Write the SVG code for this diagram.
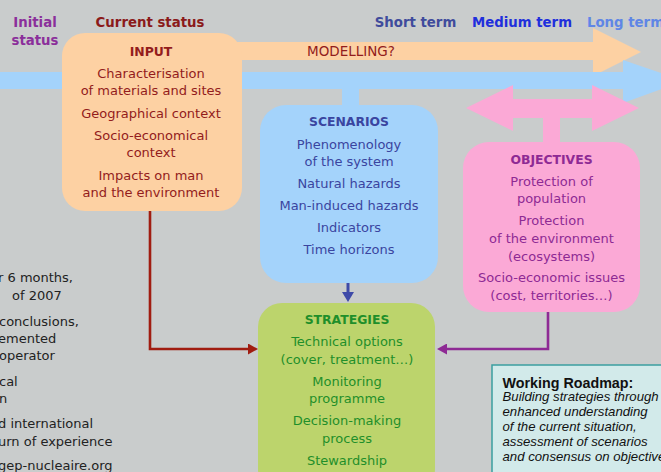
<svg xmlns="http://www.w3.org/2000/svg" width="661" height="472" viewBox="0 0 661 472">
<defs>
<style>
text{font-family:"DejaVu Sans","Liberation Sans",sans-serif;font-size:13px}
.b{font-weight:bold;font-size:13.3px}
.t{font-weight:bold;font-size:12.4px}
.c{text-anchor:middle}
.in{fill:#931c1c}
.sc{fill:#3a45a0}
.ob{fill:#8e2a94}
.st{fill:#1f8f2a}
.lt{fill:#222}
.wr{font-family:"Liberation Sans",Arial,sans-serif;fill:#111}
.it{font-style:italic;font-size:13.2px}
</style>
<marker id="mr" viewBox="0 0 10 11" refX="0" refY="5.5" markerWidth="10" markerHeight="11" markerUnits="userSpaceOnUse" orient="auto"><path d="M0,0 L10,5.5 L0,11 z" fill="#a01c10"/></marker>
<marker id="mp" viewBox="0 0 10 11" refX="0" refY="5.5" markerWidth="10" markerHeight="11" markerUnits="userSpaceOnUse" orient="auto"><path d="M0,0 L10,5.5 L0,11 z" fill="#8e2a94"/></marker>
<marker id="mb" viewBox="0 0 10 12" refX="0" refY="6" markerWidth="10" markerHeight="12" markerUnits="userSpaceOnUse" orient="auto"><path d="M0,0 L10,6 L0,12 z" fill="#3e4aa8"/></marker>
</defs>
<rect width="661" height="472" fill="#c9cccc"/>

<g id="timeline">
<text class="b" x="35" y="27" text-anchor="middle" fill="#8b2f9b">Initial</text>
<text class="b" x="35" y="45" text-anchor="middle" fill="#8b2f9b">status</text>
<text class="b" x="150" y="27" text-anchor="middle" fill="#8b1a1a">Current status</text>
<text class="b" x="415.5" y="27" text-anchor="middle" fill="#3f4b9c">Short term</text>
<text class="b" x="522" y="27" text-anchor="middle" fill="#1f2fdc">Medium term</text>
<text class="b" x="587" y="27" fill="#5f86e6">Long term</text>
</g>

<g id="modelling-arrow">
<path d="M220,42 H593 V28 L641,52 L593,76 V60 H220 Z" fill="#fdd1a3"/>
<text x="351" y="56" text-anchor="middle" fill="#931c1c" style="font-size:13.5px">MODELLING?</text>
</g>

<g id="scenario-arrow">
<path d="M0,72 H623 V60 L684,81 L623,103 V89 H0 Z" fill="#a4d3fb"/>
<rect x="342" y="86" width="17" height="24" fill="#a4d3fb"/>
</g>

<g id="objective-arrow">
<path d="M466,108 L513,85 V99 H592 V85 L639,108 L592,131 V118 H513 V131 Z" fill="#fba9d6"/>
<rect x="543" y="116" width="17" height="30" fill="#fba9d6"/>
</g>

<g id="connectors" fill="none" stroke-width="2.6">
<path d="M150,210 V349 H248" stroke="#a01c10" marker-end="url(#mr)"/>
<path d="M548,311 V349 H447" stroke="#8e2a94" marker-end="url(#mp)"/>
<path d="M348,282 V292" stroke="#3e4aa8" stroke-width="3" marker-end="url(#mb)"/>
</g>

<g id="input">
<rect x="62" y="33" width="180" height="178" rx="23" fill="#fdd1a3"/>
<text class="t c in" x="151" y="56">INPUT</text>
<text class="c in" x="151" y="78">Characterisation</text>
<text class="c in" x="151" y="95">of materials and sites</text>
<text class="c in" x="151" y="118">Geographical context</text>
<text class="c in" x="151" y="140">Socio-economical</text>
<text class="c in" x="151" y="157">context</text>
<text class="c in" x="151" y="180">Impacts on man</text>
<text class="c in" x="151" y="197">and the environment</text>
</g>

<g id="scenarios">
<rect x="260" y="105" width="178" height="178" rx="26" fill="#a4d3fb"/>
<text class="t c sc" x="349" y="126">SCENARIOS</text>
<text class="c sc" x="349" y="149">Phenomenology</text>
<text class="c sc" x="349" y="166">of the system</text>
<text class="c sc" x="349" y="188">Natural hazards</text>
<text class="c sc" x="349" y="210">Man-induced hazards</text>
<text class="c sc" x="349" y="232">Indicators</text>
<text class="c sc" x="349" y="254">Time horizons</text>
</g>

<g id="objectives">
<rect x="463" y="142" width="177" height="170" rx="26" fill="#fba9d6"/>
<text class="t c ob" x="551.5" y="164">OBJECTIVES</text>
<text class="c ob" x="551.5" y="186">Protection of</text>
<text class="c ob" x="551.5" y="203">population</text>
<text class="c ob" x="551.5" y="225">Protection</text>
<text class="c ob" x="551.5" y="243">of the environment</text>
<text class="c ob" x="551.5" y="261">(ecosystems)</text>
<text class="c ob" x="551.5" y="282">Socio-economic issues</text>
<text class="c ob" x="551.5" y="300">(cost, territories…)</text>
</g>

<g id="strategies">
<rect x="258" y="303" width="177" height="190" rx="24" fill="#bcd46c"/>
<text class="t c st" x="347" y="324">STRATEGIES</text>
<text class="c st" x="347" y="346">Technical options</text>
<text class="c st" x="347" y="364">(cover, treatment…)</text>
<text class="c st" x="347" y="386">Monitoring</text>
<text class="c st" x="347" y="403">programme</text>
<text class="c st" x="347" y="425">Decision-making</text>
<text class="c st" x="347" y="443">process</text>
<text class="c st" x="347" y="465">Stewardship</text>
</g>

<g id="roadmap">
<rect x="492" y="365" width="190" height="120" fill="#d2eaea" stroke="#3b9ea0" stroke-width="1.5"/>
<text class="wr" x="502.5" y="388" style="font-weight:bold;font-size:14.3px">Working Roadmap:</text>
<text class="wr it" x="502.5" y="401">Building strategies through</text>
<text class="wr it" x="502.5" y="416">enhanced understanding</text>
<text class="wr it" x="502.5" y="431">of the current situation,</text>
<text class="wr it" x="502.5" y="446">assessment of scenarios</text>
<text class="wr it" x="502.5" y="461">and consensus on objectives</text>
</g>

<g id="left-text" class="lt">
<text class="lt" x="-2" y="282">r 6 months,</text>
<text class="lt" x="12" y="300">of 2007</text>
<text class="lt" x="-1" y="326">conclusions,</text>
<text class="lt" x="-2" y="343">emented</text>
<text class="lt" x="-1" y="360">operator</text>
<text class="lt" x="-1" y="386">cal</text>
<text class="lt" x="-1" y="403">n</text>
<text class="lt" x="-2" y="428">d international</text>
<text class="lt" x="-2" y="446">urn of experience</text>
<text class="lt" x="-2" y="470">gep-nucleaire.org</text>
</g>
</svg>
